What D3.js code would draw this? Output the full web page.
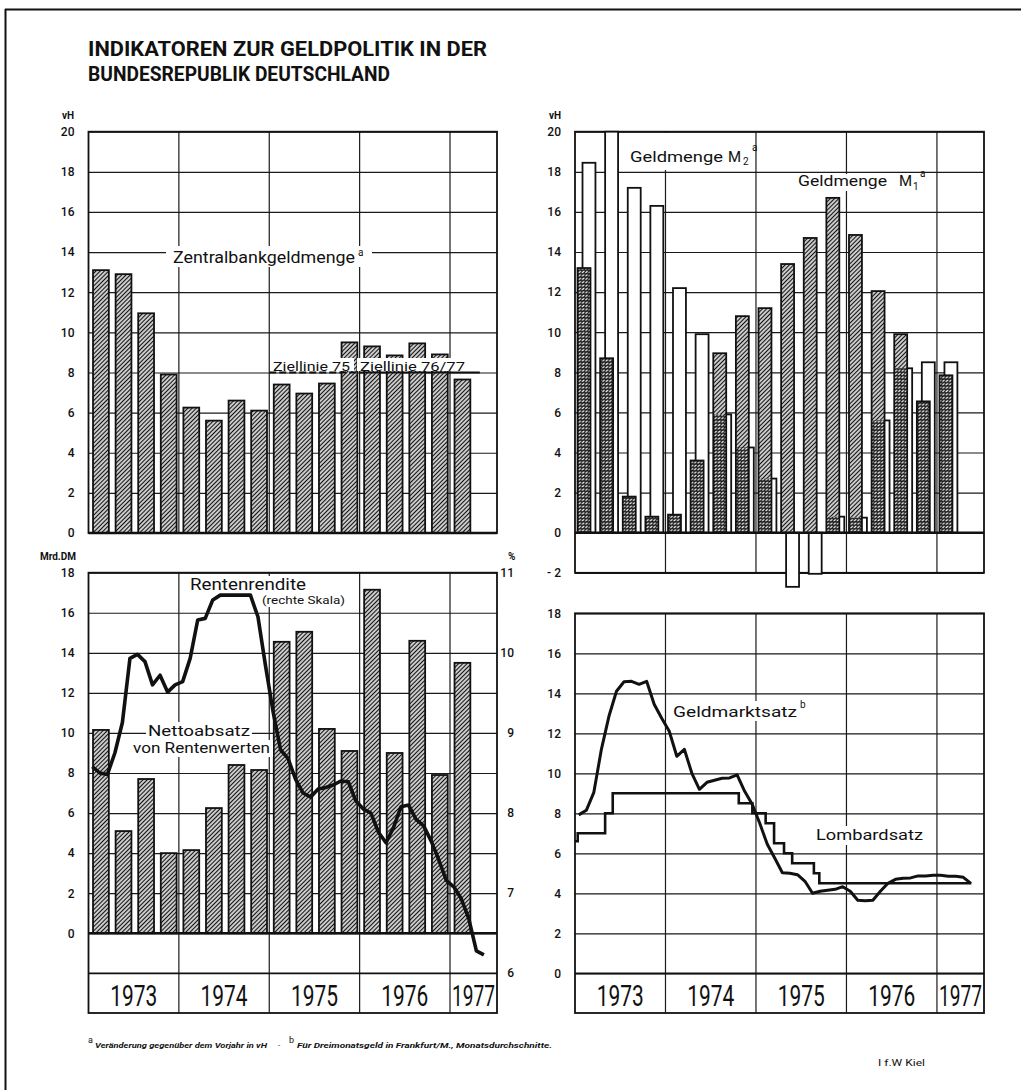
<!DOCTYPE html>
<html>
<head>
<meta charset="utf-8">
<title>Indikatoren zur Geldpolitik in der Bundesrepublik Deutschland</title>
<script src="https://d3js.org/d3.v7.min.js"></script>
<style>
  body { margin: 0; background: #fff; }
  svg text { font-family: Roboto, "DejaVu Sans", sans-serif; fill: #111; }
  .grid line { stroke: #1a1a1a; stroke-width: 1.2; }
  .tick text { font-size: 12px; font-weight: 500; }
</style>
</head>
<body>
<svg width="1021" height="1090"></svg>
<script>
// ---- Daten (Quartale 1973 I - 1977 I, Monate Jan 1973 - Mai 1977) ----
var quarters = d3.range(17).map(function(i) { return 1973 + i / 4; });
var months = d3.range(53).map(function(i) { return 1973 + (i + 0.5) / 12; });

// Zentralbankgeldmenge, Veraenderung gegenueber Vorjahr in vH
var zbgm = [13.1, 12.9, 10.95, 7.9, 6.25, 5.6, 6.6, 6.1, 7.4, 6.95, 7.45, 9.5, 9.3, 8.85, 9.45, 8.9, 7.65];
// Ziellinien
var zielLines = [{from: 1975, to: 1976, v: 8}, {from: 1976, to: 1977.33, v: 8}];

// Geldmenge M1 und M2 in vH
var m1 = [13.2, 8.7, 1.8, 0.8, 0.9, 3.6, 8.95, 10.8, 11.2, 13.4, 14.7, 16.7, 14.85, 12.05, 9.9, 6.55, 7.85];
var m2 = [18.45, 20.0, 17.2, 16.3, 12.2, 9.9, 5.9, 4.25, 2.7, -2.7, -2.05, 0.8, 0.75, 5.6, 8.2, 8.5, 8.5];

// Nettoabsatz von Rentenwerten, Mrd. DM
var netto = [10.15, 5.1, 7.7, 4.0, 4.15, 6.25, 8.4, 8.15, 14.55, 15.05, 10.2, 9.1, 17.15, 9.0, 14.6, 7.9, 13.5];
// Rentenrendite in % (rechte Skala)
var rendite = [8.58, 8.5, 8.48, 8.75, 9.13, 9.93, 9.98, 9.89, 9.6, 9.72,
               9.51, 9.6, 9.64, 9.93, 10.41, 10.43, 10.66, 10.72, 10.72, 10.72,
               10.72, 10.72, 10.45, 9.84, 9.27, 8.79, 8.68, 8.42, 8.25, 8.2,
               8.3, 8.32, 8.35, 8.4, 8.39, 8.15, 8.05, 8.0, 7.76, 7.63,
               7.82, 8.08, 8.1, 7.92, 7.84, 7.65, 7.42, 7.16, 7.08, 6.93,
               6.68, 6.28, 6.23];

// Geldmarktsatz (Dreimonatsgeld Frankfurt) in %
var geldmarkt = [7.92, 8.15, 9.05, 11.2, 12.85, 14.1, 14.58, 14.6, 14.45, 14.6,
                 13.45, 12.75, 12.1, 10.85, 11.2, 10.0, 9.2, 9.55, 9.65, 9.75,
                 9.77, 9.92, 9.1, 8.45, 7.5, 6.45, 5.75, 5.03, 5.0, 4.93,
                 4.6, 4.0, 4.1, 4.15, 4.2, 4.33, 4.1, 3.65, 3.63, 3.65,
                 4.1, 4.5, 4.7, 4.75, 4.77, 4.87, 4.87, 4.9, 4.9, 4.85,
                 4.85, 4.8, 4.5];
// Lombardsatz in % (Stufen)
var lombardDates = [1973.0, 1973.03, 1973.333, 1973.417, 1974.81, 1974.96, 1975.107, 1975.2, 1975.31, 1975.4, 1975.64, 1975.7, 1977.38];
var lombard = [6.6, 7, 8, 9, 8.5, 8, 7.5, 6.5, 6, 5.5, 5, 4.5, 4.5];

var yearLines = [1974, 1975, 1976, 1977];
var yearLabels = ["1973", "1974", "1975", "1976", "1977"];

var svg = d3.select("svg");
var defs = svg.append("defs");

// Schraffuren
var pd = defs.append("pattern").attr("id", "diag").attr("patternUnits", "userSpaceOnUse")
  .attr("width", 3).attr("height", 3).attr("patternTransform", "rotate(45)");
pd.append("rect").attr("width", 3).attr("height", 3).attr("fill", "#fff");
pd.append("line").attr("x1", 1.5).attr("x2", 1.5).attr("y1", 0).attr("y2", 3)
  .attr("stroke", "#111").attr("stroke-width", 1.45);

var pc = defs.append("pattern").attr("id", "cross").attr("patternUnits", "userSpaceOnUse")
  .attr("width", 3.4).attr("height", 3.4);
pc.append("rect").attr("width", 3.4).attr("height", 3.4).attr("fill", "#fff");
pc.append("path").attr("d", "M-0.9,0.9L0.9,-0.9M0,3.4L3.4,0M2.5,4.3L4.3,2.5M0,1.7H3.4")
  .attr("stroke", "#111").attr("stroke-width", 1.15);

// Rahmen der Seite
svg.append("line").attr("x1", 5).attr("x2", 1021).attr("y1", 9.5).attr("y2", 9.5).attr("stroke", "#111").attr("stroke-width", 2);
svg.append("line").attr("x1", 5.5).attr("x2", 5.5).attr("y1", 9).attr("y2", 1090).attr("stroke", "#111").attr("stroke-width", 2);

// Titel
svg.append("text").attr("x", 88).attr("y", 56).attr("font-size", 21).attr("font-weight", 700)
  .attr("textLength", 399).attr("lengthAdjust", "spacingAndGlyphs")
  .text("INDIKATOREN ZUR GELDPOLITIK IN DER");
svg.append("text").attr("x", 88).attr("y", 81).attr("font-size", 21).attr("font-weight", 700)
  .attr("textLength", 302).attr("lengthAdjust", "spacingAndGlyphs")
  .text("BUNDESREPUBLIK DEUTSCHLAND");

function fmt(d) { return d < 0 ? "- " + (-d) : d; }

function panel(o) {
  var g = svg.append("g");
  var x = d3.scaleLinear().domain([1973, 1977.52]).range([o.x0, o.x1]);
  var y = d3.scaleLinear().domain(o.dom).range([o.yb, o.yt]);
  g.append("g").attr("class", "grid").attr("transform", "translate(" + o.x0 + ",0)")
    .call(d3.axisLeft(y).tickValues(o.ticks).tickSize(-(o.x1 - o.x0)).tickPadding(14).tickFormat(fmt))
    .call(function(a) { a.select(".domain").remove(); a.attr("font-family", null).attr("font-size", null); });
  g.append("g").attr("class", "grid").selectAll("line").data(yearLines).join("line")
    .attr("x1", function(d) { return x(d); }).attr("x2", function(d) { return x(d); })
    .attr("y1", o.yt).attr("y2", o.yEnd);
  g.append("rect").attr("x", o.x0).attr("y", o.yt).attr("width", o.x1 - o.x0).attr("height", o.yEnd - o.yt)
    .attr("fill", "none").attr("stroke", "#111").attr("stroke-width", 1.8);
  if (o.yEnd > o.yb) {
    g.append("line").attr("x1", o.x0).attr("x2", o.x1).attr("y1", o.yb).attr("y2", o.yb)
      .attr("stroke", "#111").attr("stroke-width", 1.8);
    g.selectAll(".yl").data(yearLabels).join("text").attr("class", "yl")
      .attr("x", function(d) { var a = x(+d), b = Math.min(x(+d + 1), o.x1); return (a + b) / 2; })
      .attr("y", o.yb + 33).attr("text-anchor", "middle").attr("font-size", 30)
      .attr("textLength", function(d) { return d === "1977" ? 43 : 47; })
      .attr("lengthAdjust", "spacingAndGlyphs").text(function(d) { return d; });
  }
  return {g: g, x: x, y: y, o: o};
}

function bars(p, vals, off, w, fill, stroke) {
  return p.g.append("g").selectAll("rect").data(vals).join("rect")
    .attr("x", function(d, i) { return p.x(quarters[i] + off); })
    .attr("width", p.x(1973 + w) - p.x(1973))
    .attr("y", function(d) { return p.y(Math.max(d, 0)); })
    .attr("height", function(d) { return Math.abs(p.y(d) - p.y(0)); })
    .attr("fill", fill).attr("stroke", stroke ? "#111" : "none").attr("stroke-width", 1.8);
}

function zeroLine(p) {
  p.g.append("line").attr("x1", p.o.x0).attr("x2", p.o.x1).attr("y1", p.y(0)).attr("y2", p.y(0))
    .attr("stroke", "#111").attr("stroke-width", 2.6);
}

function box(g, x0, y0, x1, y1) {
  g.append("rect").attr("x", x0).attr("y", y0).attr("width", x1 - x0).attr("height", y1 - y0).attr("fill", "#fff");
}

function label(g, s, x, y, size, len) {
  var t = g.append("text").attr("x", x).attr("y", y).attr("font-size", size).text(s);
  if (len) t.attr("textLength", len).attr("lengthAdjust", "spacingAndGlyphs");
  return t;
}

// ---- oben links: Zentralbankgeldmenge ----
var tl = panel({x0: 88.5, x1: 497, yt: 131.7, yb: 533, yEnd: 533, dom: [0, 20], ticks: d3.range(0, 21, 2)});
bars(tl, zbgm, 0.05, 0.175, "url(#diag)", true);
zeroLine(tl);
tl.g.selectAll(".ziel").data(zielLines).join("line").attr("class", "ziel")
  .attr("x1", function(d) { return tl.x(d.from); }).attr("x2", function(d) { return tl.x(d.to); })
  .attr("y1", function(d) { return tl.y(d.v); }).attr("y2", function(d) { return tl.y(d.v); })
  .attr("stroke", "#111").attr("stroke-width", 2)
  .attr("stroke-dasharray", function(d, i) { return i === 0 ? "7,3" : null; });
box(tl.g, 166, 246, 372, 267);
box(tl.g, 270, 358, 354, 371);
box(tl.g, 357, 358, 468, 371);
label(tl.g, "Zentralbankgeldmenge", 173, 262.5, 16, 182);
label(tl.g, "a", 358, 256, 10);
label(tl.g, "Ziellinie 75", 273, 370.5, 13, 77);
label(tl.g, "Ziellinie 76/77", 360, 370.5, 13, 105);
label(svg, "vH", 74, 119, 10).attr("text-anchor", "end").attr("font-weight", 700);

// ---- oben rechts: Geldmenge M1 / M2 ----
var tr = panel({x0: 575, x1: 984, yt: 131.7, yb: 572.8, yEnd: 572.8, dom: [-2, 20], ticks: d3.range(-2, 21, 2)});
box(tr.g, 624, 133, 751, 170);
box(tr.g, 794, 174, 930, 191);
bars(tr, m2, 0.083, 0.143, "#fff", true);
bars(tr, m1, 0.028, 0.143, "url(#diag)", false);
bars(tr, m1.map(function(d, i) { return m2[i] > 0 ? Math.min(d, m2[i]) : 0; }), 0.028, 0.143, "url(#cross)", false);
bars(tr, m1, 0.028, 0.143, "none", true);
zeroLine(tr);
label(tr.g, "Geldmenge", 630, 161.5, 15, 93);
label(tr.g, "M", 728, 161.5, 15);
label(tr.g, "2", 743, 165, 10);
label(tr.g, "a", 752, 151, 10);
label(tr.g, "Geldmenge", 798, 186, 15, 89);
label(tr.g, "M", 899, 186, 15);
label(tr.g, "1", 913, 189.5, 10);
label(tr.g, "a", 920, 177, 10);
label(svg, "vH", 561, 119, 10).attr("text-anchor", "end").attr("font-weight", 700);

// ---- unten links: Nettoabsatz von Rentenwerten / Rentenrendite ----
var bl = panel({x0: 88.5, x1: 497, yt: 572.7, yb: 973.3, yEnd: 1013, dom: [-2, 18], ticks: d3.range(0, 19, 2)});
var yR = d3.scaleLinear().domain([6, 11]).range([973.3, 572.7]);
bars(bl, netto, 0.05, 0.175, "url(#diag)", true);
zeroLine(bl);
bl.g.selectAll(".rt").data([6, 7, 8, 9, 10, 11]).join("text").attr("class", "rt")
  .attr("x", 514).attr("y", function(d) { return yR(d); }).attr("dy", "0.32em")
  .attr("text-anchor", "end").attr("font-size", 12).attr("font-weight", 500).text(function(d) { return d; });
label(svg, "Mrd.DM", 76, 560, 10).attr("text-anchor", "end").attr("font-weight", 700);
label(svg, "%", 508, 560, 10).attr("font-weight", 700);
box(bl.g, 186, 576, 350, 607);
box(bl.g, 146, 722, 252, 740);
box(bl.g, 130, 740, 273, 757);
label(bl.g, "Rentenrendite", 190, 590, 16, 116);
label(bl.g, "(rechte Skala)", 262, 604, 10.5, 83);
label(bl.g, "Nettoabsatz", 148, 736, 14, 102);
label(bl.g, "von Rentenwerten", 133, 753, 14, 137);
bl.g.append("path").datum(rendite)
  .attr("d", d3.line().x(function(d, i) { return bl.x(months[i]); }).y(function(d) { return yR(d); }))
  .attr("fill", "none").attr("stroke", "#111").attr("stroke-width", 3.6).attr("stroke-linejoin", "round");

// ---- unten rechts: Geldmarktsatz / Lombardsatz ----
var br = panel({x0: 575, x1: 984, yt: 613.3, yb: 973.3, yEnd: 1013, dom: [0, 18], ticks: d3.range(0, 19, 2)});
box(br.g, 668, 701, 810, 721);
box(br.g, 812, 826, 927, 845);
label(br.g, "Geldmarktsatz", 673, 716.5, 15, 124);
label(br.g, "b", 800, 708, 10);
label(br.g, "Lombardsatz", 816, 840, 15, 107);
br.g.append("path").datum(lombard)
  .attr("d", d3.line().curve(d3.curveStepAfter)
    .x(function(d, i) { return br.x(lombardDates[i]); }).y(function(d) { return br.y(d); }))
  .attr("fill", "none").attr("stroke", "#111").attr("stroke-width", 2.6);
br.g.append("path").datum(geldmarkt)
  .attr("d", d3.line().x(function(d, i) { return br.x(months[i]); }).y(function(d) { return br.y(d); }))
  .attr("fill", "none").attr("stroke", "#111").attr("stroke-width", 3).attr("stroke-linejoin", "round");

// ---- Fussnote ----
var fn = svg.append("g").attr("font-style", "italic");
label(fn, "a", 88, 1043, 9).attr("font-style", "normal");
label(fn, "Veränderung gegenüber dem Vorjahr in vH", 95, 1048, 8, 172).attr("font-weight", 700);
label(fn, "-", 278, 1048, 8);
label(fn, "b", 289, 1043, 9).attr("font-style", "normal");
label(fn, "Für Dreimonatsgeld in Frankfurt/M., Monatsdurchschnitte.", 297, 1048, 8, 255).attr("font-weight", 700);
label(svg, "I f.W  Kiel", 878, 1066, 9, 47);
</script>
</body>
</html>
